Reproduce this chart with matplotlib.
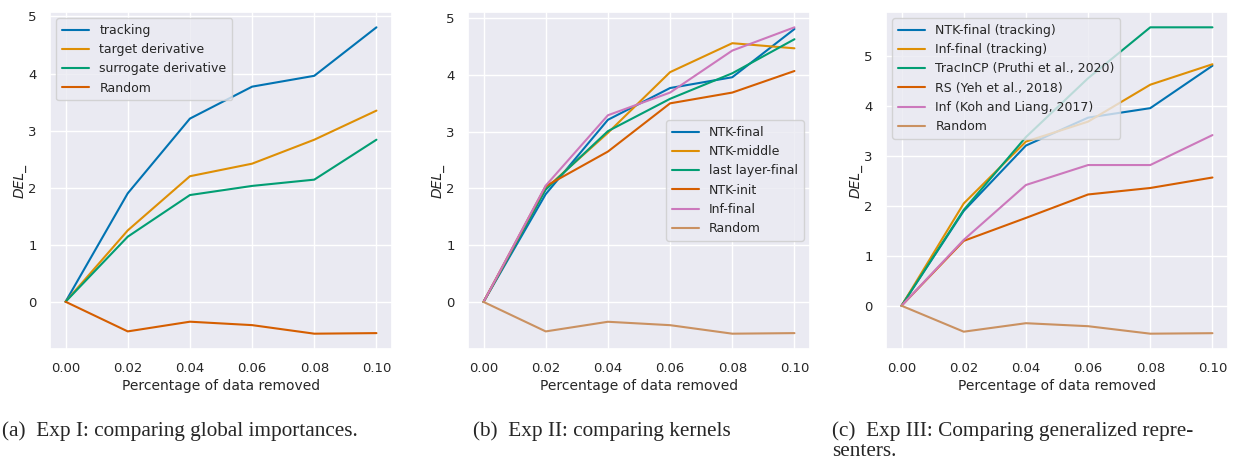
import matplotlib
matplotlib.use("Agg")
import matplotlib.pyplot as plt
import seaborn as sns

sns.set_theme(style="darkgrid", palette="colorblind")
plt.rcParams["font.family"] = ["DejaVu Sans"]

# data
x_removed = [0.00, 0.02, 0.04, 0.06, 0.08, 0.10]

# (a) Exp I
tracking = [0, 1.90, 3.21, 3.77, 3.96, 4.81]
target_derivative = [0, 1.25, 2.20, 2.42, 2.84, 3.35]
surrogate_derivative = [0, 1.14, 1.87, 2.03, 2.14, 2.84]
random_del = [0, -0.52, -0.35, -0.41, -0.56, -0.55]

# (b) Exp II
ntk_final = [0, 1.90, 3.21, 3.77, 3.96, 4.81]
ntk_middle = [0, 2.00, 2.98, 4.05, 4.56, 4.47]
last_layer_final = [0, 1.98, 3.01, 3.58, 4.03, 4.63]
ntk_init = [0, 2.04, 2.65, 3.50, 3.69, 4.07]
inf_final = [0, 2.05, 3.29, 3.69, 4.43, 4.84]

# (c) Exp III
tracin_cp = [0, 1.92, 3.38, 4.56, 5.58, 5.58]
rs_yeh = [0, 1.30, 1.76, 2.23, 2.36, 2.57]
inf_koh = [0, 1.32, 2.42, 2.82, 2.82, 3.42]

captions = [
    ["(a)  Exp I: comparing global importances."],
    ["(b)  Exp II: comparing kernels"],
    ["(c)  Exp III: Comparing generalized repre-", "senters."],
]

pal = sns.color_palette("colorblind")
blue, orange, green, red, pink, tan = pal[0], pal[1], pal[2], pal[3], pal[4], pal[5]

fig = plt.figure(figsize=(12.33, 4.65), dpi=100)
lefts = [50, 468, 886]
axes = []
for left in lefts:
    ax = fig.add_axes([left / 1233, 1 - 349 / 465, 342 / 1233, 337 / 465])
    axes.append(ax)

lw = 1.5
series = [
    [("tracking", tracking, blue), ("target derivative", target_derivative, orange),
     ("surrogate derivative", surrogate_derivative, green), ("Random", random_del, red)],
    [("NTK-final", ntk_final, blue), ("NTK-middle", ntk_middle, orange),
     ("last layer-final", last_layer_final, green), ("NTK-init", ntk_init, red),
     ("Inf-final", inf_final, pink), ("Random", random_del, tan)],
    [("NTK-final (tracking)", ntk_final, blue), ("Inf-final (tracking)", inf_final, orange),
     ("TracInCP (Pruthi et al., 2020)", tracin_cp, green), ("RS (Yeh et al., 2018)", rs_yeh, red),
     ("Inf (Koh and Liang, 2017)", inf_koh, pink), ("Random", random_del, tan)],
]
legend_locs = ["upper left", "center right", "upper left"]

for ax, lines, loc in zip(axes, series, legend_locs):
    for label, vals, col in lines:
        ax.plot(x_removed, vals, color=col, lw=lw, label=label)
    ax.set_xticks(x_removed)
    ax.set_xticklabels([f"{v:.2f}" for v in x_removed])
    ax.tick_params(labelsize=9.5, colors=".15")
    ax.set_xlabel("Percentage of data removed", fontsize=10, color=".15", labelpad=3)
    ax.set_ylabel("DEL_", fontsize=10, fontstyle="italic", color=".15", labelpad=1)
    ax.legend(loc=loc, fontsize=9, handlelength=2.2, borderpad=0.45, labelspacing=0.5)

# captions, one text per line
for left, lines in zip([2, 473, 832], captions):
    for i, line in enumerate(lines):
        fig.text(left / 1233, 1 - (436 + 20 * i) / 465, line, fontsize=15.3,
                 family="Liberation Serif", va="baseline", ha="left")

fig.savefig("out.png", dpi=100)
